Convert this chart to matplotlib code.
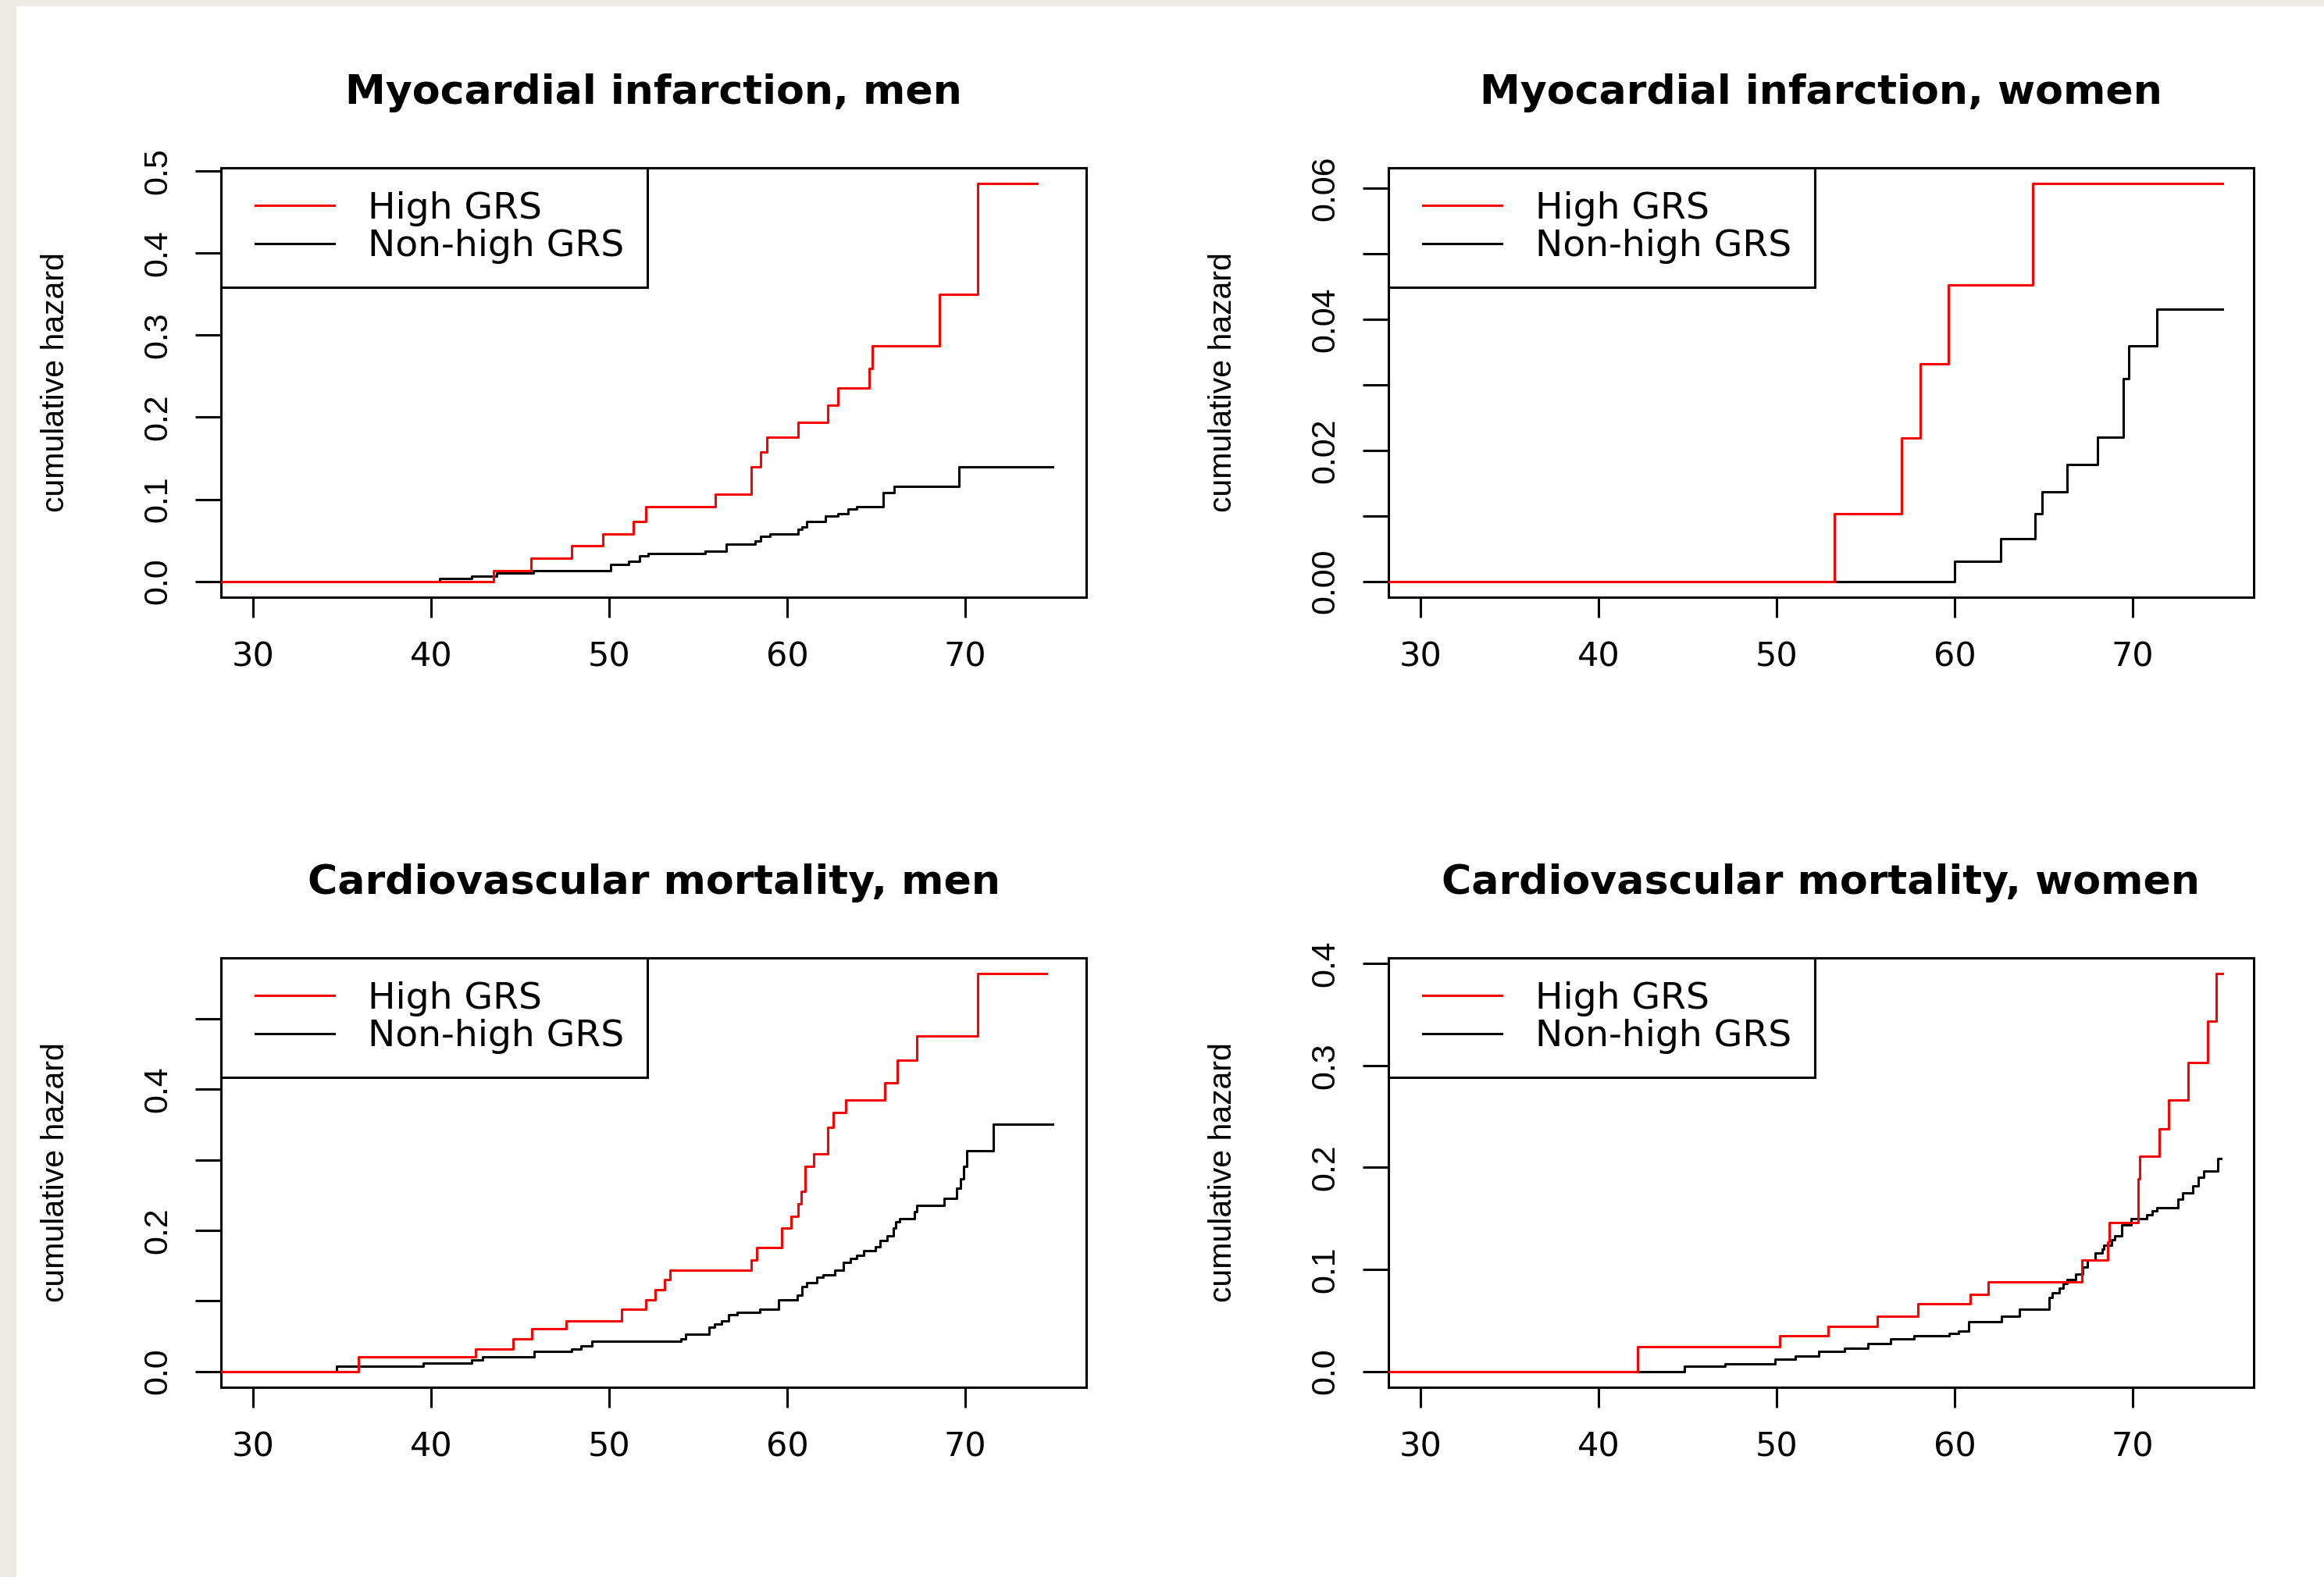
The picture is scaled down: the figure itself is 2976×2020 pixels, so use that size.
import matplotlib
matplotlib.use("Agg")
import matplotlib.pyplot as plt
from matplotlib import font_manager
from matplotlib.patches import Rectangle
from matplotlib.lines import Line2D
from matplotlib.legend_handler import HandlerLine2D

# ---------------- data (age, cumulative hazard) ----------------
titles = ["Myocardial infarction, men", "Myocardial infarction, women",
          "Cardiovascular mortality, men", "Cardiovascular mortality, women"]
legend_labels = ["High GRS", "Non-high GRS"]
x_ticks = [30, 40, 50, 60, 70]
x_range = (30, 75)

mi_men_high_t = [25, 43.53, 45.63, 47.9, 49.64, 51.35, 52.06, 55.95, 57.98, 58.49, 58.85,
                 60.6, 62.3, 62.86, 64.6, 64.8, 68.57, 70.71, 74.05]
mi_men_high_h = [0, 0.0127, 0.028, 0.0433, 0.0573, 0.0726, 0.0909, 0.1058, 0.1394, 0.1573,
                 0.1753, 0.1936, 0.2146, 0.2356, 0.2592, 0.2867, 0.3497, 0.4847, 0.4847]
mi_men_low_t = [25, 40.5, 42.3, 43.7, 45.75, 50.1, 51.1, 51.7, 52.2, 55.4, 56.6, 58.2, 58.5,
                59.05, 60.6, 60.83, 61.1, 62.14, 62.86, 63.4, 63.9, 65.4, 66.0, 69.64, 74.92]
mi_men_low_h = [0, 0.0035, 0.0066, 0.0105, 0.0127, 0.021, 0.0245, 0.031, 0.0337, 0.0367,
                0.0455, 0.049, 0.0546, 0.0573, 0.0638, 0.0664, 0.0726, 0.0795, 0.0822,
                0.0878, 0.0909, 0.108, 0.1154, 0.1394, 0.1394]

mi_women_high_t = [25, 53.25, 57.03, 58.07, 59.67, 64.37, 75.06]
mi_women_high_h = [0, 0.01029, 0.0219, 0.0332, 0.0453, 0.0607, 0.0607]
mi_women_low_t = [25, 60.02, 62.6, 64.5, 64.9, 66.3, 68.04, 69.47, 69.79, 71.35, 75.06]
mi_women_low_h = [0, 0.00307, 0.00651, 0.0103, 0.01363, 0.0178, 0.02195, 0.0309, 0.0359,
                  0.0415, 0.0415]

cvd_men_high_t = [25, 35.9, 42.5, 44.6, 45.67, 47.58, 50.71, 52.06, 52.6, 53.1, 53.4, 57.98,
                  58.3, 59.7, 60.2, 60.6, 60.8, 61.0, 61.5, 62.3, 62.6, 63.3, 65.5, 66.2,
                  67.3, 70.7, 74.56]
cvd_men_high_h = [0, 0.0209, 0.0318, 0.0459, 0.06, 0.071, 0.0877, 0.1018, 0.1159, 0.13,
                  0.144, 0.1576, 0.1754, 0.2035, 0.2203, 0.238, 0.2557, 0.2907, 0.3085,
                  0.346, 0.3674, 0.3852, 0.409, 0.4415, 0.476, 0.5637, 0.5637]
cvd_men_low_t = [25, 34.7, 39.56, 42.3, 42.9, 45.8, 47.9, 48.4, 49.05, 54.05, 54.3, 55.6,
                 55.9, 56.3, 56.7, 57.2, 58.45, 59.5, 60.55, 60.83, 61.1, 61.67, 62.0,
                 62.66, 63.17, 63.57, 63.9, 64.3, 64.96, 65.24, 65.6, 65.95, 66.1, 66.3,
                 67.14, 67.3, 68.8, 69.5, 69.72, 69.9, 70.1, 71.6, 74.92]
cvd_men_low_h = [0, 0.0078, 0.0115, 0.0167, 0.0209, 0.0282, 0.0318, 0.0365, 0.0423, 0.0459,
                 0.0532, 0.0626, 0.0673, 0.071, 0.0799, 0.084, 0.0877, 0.1018, 0.1086,
                 0.1206, 0.1263, 0.133, 0.1373, 0.143, 0.155, 0.160, 0.1644, 0.171, 0.177,
                 0.186, 0.1926, 0.2035, 0.2119, 0.217, 0.2265, 0.2349, 0.2453, 0.26,
                 0.2735, 0.2912, 0.3126, 0.3502, 0.3502]

cvd_women_high_t = [25, 42.2, 50.18, 52.9, 55.64, 57.95, 60.86, 61.9, 67.16, 68.6, 68.7,
                    70.3, 70.4, 71.5, 72.0, 73.1, 74.2, 74.7, 75.06]
cvd_women_high_h = [0, 0.0245, 0.0347, 0.044, 0.0538, 0.066, 0.0755, 0.0877, 0.1094,
                    0.127, 0.1458, 0.1888, 0.2108, 0.2375, 0.2664, 0.3029, 0.3437, 0.3899,
                    0.3899]
cvd_women_low_t = [25, 44.83, 47.1, 49.9, 51.07, 52.35, 53.8, 55.15, 56.4, 57.7, 59.7, 60.2,
                   60.8, 62.65, 63.65, 65.3, 65.5, 65.9, 66.1, 66.3, 66.8, 67.2, 67.45,
                   67.9, 68.3, 68.4, 68.8, 69.0, 69.4, 69.9, 70.8, 71.1, 71.35, 72.55,
                   72.8, 73.4, 73.7, 74.0, 74.8, 74.97]
cvd_women_low_h = [0, 0.0054, 0.0076, 0.0119, 0.0148, 0.0195, 0.0224, 0.027, 0.0318,
                   0.0347, 0.0375, 0.0397, 0.0487, 0.0538, 0.0606, 0.0722, 0.0769, 0.0816,
                   0.0859, 0.0899, 0.0957, 0.1022, 0.1094, 0.1162, 0.1202, 0.1238, 0.1292,
                   0.1328, 0.1433, 0.1498, 0.1538, 0.1574, 0.1606, 0.169, 0.1747, 0.182,
                   0.19, 0.1964, 0.2087, 0.2087]

y_ticks = [[0.0, 0.1, 0.2, 0.3, 0.4, 0.5],
           [0.00, 0.01, 0.02, 0.03, 0.04, 0.05, 0.06],
           [0.0, 0.1, 0.2, 0.3, 0.4, 0.5],
           [0.0, 0.1, 0.2, 0.3, 0.4]]
y_ticklabels = [["0.0", "0.1", "0.2", "0.3", "0.4", "0.5"],
                ["0.00", "", "0.02", "", "0.04", "", "0.06"],
                ["0.0", "", "0.2", "", "0.4", ""],
                ["0.0", "0.1", "0.2", "0.3", "0.4"]]

panels = [
    (mi_men_high_t, mi_men_high_h, mi_men_low_t, mi_men_low_h),
    (mi_women_high_t, mi_women_high_h, mi_women_low_t, mi_women_low_h),
    (cvd_men_high_t, cvd_men_high_h, cvd_men_low_t, cvd_men_low_h),
    (cvd_women_high_t, cvd_women_high_h, cvd_women_low_t, cvd_women_low_h),
]

# ---------------- fonts ----------------
names = {f.name for f in font_manager.fontManager.ttflist}
NARROW = "Liberation Sans Narrow" if "Liberation Sans Narrow" in names else "Liberation Sans"
narrow_ok = NARROW == "Liberation Sans Narrow"
YTICK_FS = 35 if narrow_ok else 31
YLAB_FS = 36 if narrow_ok else 29.5
WIDE = "DejaVu Sans"

# ---------------- figure ----------------
W, H = 2976, 2020
fig = plt.figure(figsize=(W / 100, H / 100), dpi=100, facecolor="#ECEBE1")
fig.patches.append(Rectangle((21 / W, 0), 1, 1 - 8 / H, transform=fig.transFigure,
                             facecolor="white", edgecolor="none", zorder=-10))

lefts = [283, 1778]
tops = [215, 1227]
aw, ah = 1108, 550
LW = 2.2


class ShiftHandler(HandlerLine2D):
    def __init__(self, shift_frac, **kw):
        super().__init__(**kw)
        self.shift_frac = shift_frac

    def create_artists(self, legend, orig_handle, xdescent, ydescent, width, height,
                       fontsize, trans):
        s = self.shift_frac * fontsize
        return super().create_artists(legend, orig_handle, xdescent - s, ydescent,
                                      width - s, height, fontsize, trans)


for i, (ht, hh, lt, lh) in enumerate(panels):
    r, c = divmod(i, 2)
    x0 = lefts[c]
    y0 = tops[r]
    ax = fig.add_axes([x0 / W, 1 - (y0 + ah) / H, aw / W, ah / H])
    ax.set_facecolor("white")
    l1, = ax.plot(lt, lh, drawstyle="steps-post", color="black", lw=LW, zorder=3)
    l2, = ax.plot(ht, hh, drawstyle="steps-post", color="#FF0000", lw=LW, zorder=4)

    span = x_range[1] - x_range[0]
    ax.set_xlim(x_range[0] - 0.04 * span, x_range[1] + 0.04 * span)
    ymax = max(max(hh), max(lh))
    ax.set_ylim(-0.04 * ymax, 1.04 * ymax)

    ax.set_xticks(x_ticks)
    ax.set_xticklabels([str(v) for v in x_ticks], fontfamily=WIDE, fontsize=31)
    ax.set_yticks(y_ticks[i], y_ticklabels[i], rotation=90, va="center", ha="right",
                  fontfamily=NARROW, fontsize=YTICK_FS)
    ax.tick_params(axis="x", length=18.7, width=LW, pad=21, colors="black")
    ax.tick_params(axis="y", length=23.8, width=LW, pad=20, colors="black")
    for sp in ax.spines.values():
        sp.set_linewidth(LW)
        sp.set_color("black")

    ax.set_title(titles[i], fontfamily=WIDE, fontweight="bold", fontsize=37.5, pad=59)
    ax.set_ylabel("cumulative hazard", fontfamily=NARROW, fontsize=YLAB_FS)
    ax.yaxis.set_label_coords(-0.174, 0.5)

    leg = ax.legend([l2, l1], legend_labels, loc="upper left", bbox_to_anchor=(0, 1),
                    borderaxespad=0, frameon=True, fancybox=False, framealpha=1,
                    edgecolor="black", borderpad=0.63, handlelength=2.44,
                    handletextpad=0.91, labelspacing=0.07,
                    prop={"family": WIDE, "size": 34},
                    handler_map={Line2D: ShiftHandler(0.3)})
    leg.get_frame().set_linewidth(LW)
    leg.set_zorder(5)

fig.savefig("out.png", dpi=100, facecolor=fig.get_facecolor())
